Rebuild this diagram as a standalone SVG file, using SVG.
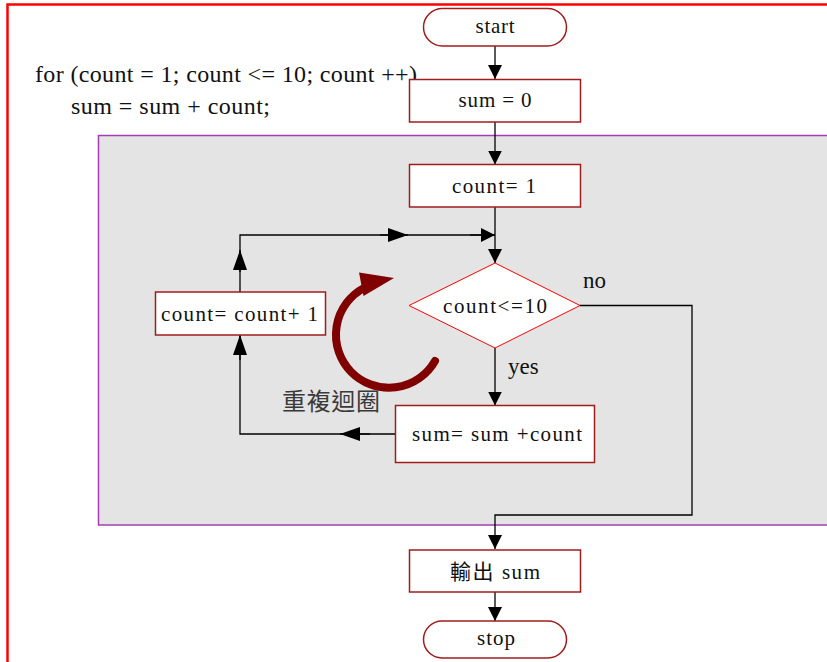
<svg xmlns="http://www.w3.org/2000/svg" width="827" height="662" viewBox="0 0 827 662">
<defs>
<style>
.box{fill:#ffffff;stroke:#a01c1c;stroke-width:1.5}
.dia{fill:#ffffff;stroke:#ff0000;stroke-width:1}
.t{font-family:"Liberation Serif","Noto Sans CJK TC",serif;font-size:21px;fill:#111;text-anchor:middle}
.code{font-family:"Liberation Serif",serif;font-size:24px;fill:#111}
.lbl{font-family:"Liberation Serif",serif;font-size:23px;fill:#111}
.c{fill:none;stroke:#000;stroke-width:1.3}
.s{marker-end:url(#ah)}
.b{marker-end:url(#ab)}
</style>
<marker id="ah" markerUnits="userSpaceOnUse" markerWidth="14" markerHeight="14" viewBox="0 0 12 12" refX="12" refY="6" orient="auto">
<path d="M0,0 L12,6 L0,12 Z" fill="#000"/>
</marker>
<marker id="ab" markerUnits="userSpaceOnUse" markerWidth="20" markerHeight="14" viewBox="0 0 20 14" refX="20" refY="7" orient="auto">
<path d="M0,0 L20,7 L0,14 Z" fill="#000"/>
</marker>
</defs>
<rect x="7.5" y="4.5" width="900" height="700" fill="#ffffff" stroke="#ff0000" stroke-width="2.5"/>
<rect id="loop-region" x="98.5" y="135.5" width="800" height="389.5" fill="#e4e4e4" stroke="#a040b0" stroke-width="1.5"/>
<g id="code">
<text class="code" x="35" y="82" textLength="382" lengthAdjust="spacing">for (count = 1; count &lt;= 10; count ++)</text>
<text class="code" x="71" y="114" textLength="199" lengthAdjust="spacing">sum = sum + count;</text>
</g>
<g id="connectors">
<path class="c s" d="M495,46 V79"/>
<path class="c s" d="M495,122 V164.5"/>
<path class="c s" d="M495,207 V263"/>
<path class="c" d="M240,292 V235 H495"/>
<path class="c b" d="M240,272 V250"/>
<path class="c b" d="M380,235 H408"/>
<path class="c s" d="M470,235 H495"/>
<path class="c s" d="M495,348 V405.5"/>
<path class="c" d="M395,434 H240 V335"/>
<path class="c b" d="M370,434 H340"/>
<path class="c b" d="M240,360 V335"/>
<path class="c s" d="M580,305.5 H692 V515 H495 V549"/>
<path class="c s" d="M495,592 V621"/>
<text class="lbl" x="583" y="288">no</text>
<text class="lbl" x="508" y="374">yes</text>
</g>
<g id="start">
<rect class="box" x="423.5" y="8.5" width="143" height="37.5" rx="19" ry="19"/>
<text class="t" x="495" y="33" textLength="39" lengthAdjust="spacing">start</text>
</g>
<g id="sum0">
<rect class="box" x="409.5" y="79.5" width="171" height="42.5"/>
<text class="t" x="495" y="107" textLength="73" lengthAdjust="spacing">sum = 0</text>
</g>
<g id="count1">
<rect class="box" x="409.5" y="164.5" width="171" height="42.5"/>
<text class="t" x="494" y="193" textLength="84" lengthAdjust="spacing">count= 1</text>
</g>
<g id="cond">
<polygon class="dia" points="409,305.5 495,263 580,305.5 495,348"/>
<text class="t" x="495" y="313" textLength="104" lengthAdjust="spacing">count&lt;=10</text>
</g>
<g id="body">
<rect class="box" x="395.5" y="405.5" width="199" height="57"/>
<text class="t" x="497" y="441" textLength="170" lengthAdjust="spacing">sum= sum +count</text>
</g>
<g id="incr">
<rect class="box" x="155.5" y="292" width="170" height="43"/>
<text class="t" x="239.5" y="321" textLength="157" lengthAdjust="spacing">count= count+ 1</text>
</g>
<g id="output">
<rect class="box" x="409.5" y="550" width="171" height="42"/>
<text class="t" x="495" y="579" textLength="90" lengthAdjust="spacing">輸出 sum</text>
</g>
<g id="stop">
<rect class="box" x="423.5" y="621" width="143" height="37" rx="18.5" ry="18.5"/>
<text class="t" x="496" y="645" textLength="38" lengthAdjust="spacing">stop</text>
</g>
<g id="loop-arrow">
<path d="M435,361 A53,53 0 1 1 364,288" fill="none" stroke="#800000" stroke-width="8" stroke-linecap="round"/>
<polygon points="394,278 359,272.5 363.5,296" fill="#800000"/>
<text x="282" y="410" font-family="'Noto Sans CJK TC','Noto Sans CJK SC',sans-serif" font-size="24" fill="#3a3a3a" textLength="98" lengthAdjust="spacing">重複迴圈</text>
</g>
</svg>
